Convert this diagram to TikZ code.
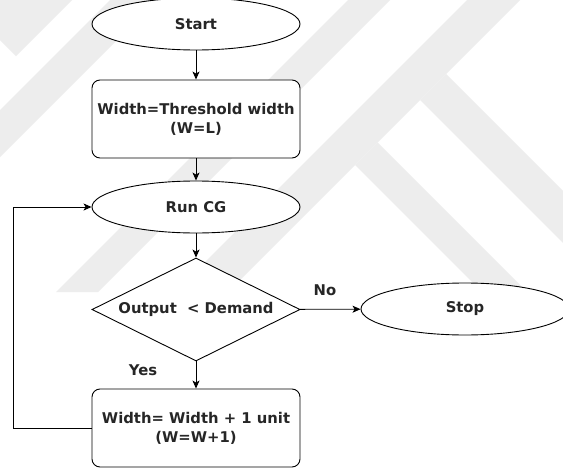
\documentclass[tikz,border=0pt]{standalone}
\usepackage{fontspec}
\setmainfont{DejaVu Sans}
\usetikzlibrary{shapes.geometric,arrows.meta}
\begin{document}
\begin{tikzpicture}[x=1pt,y=-1pt,
  every node/.style={font=\fontsize{14.8}{18}\selectfont\bfseries, text=black!85},
  term/.style={ellipse, draw, fill=white, line width=0.9pt, minimum width=208pt, minimum height=52pt, inner sep=0pt},
  proc/.style={rectangle, rounded corners=8pt, draw, fill=white, line width=0.9pt, minimum width=208pt, minimum height=78pt, inner sep=0pt, align=center},
  decide/.style={diamond, aspect=2.02, draw, fill=white, line width=0.9pt, minimum width=208pt, minimum height=103pt, inner sep=0pt},
  link/.style={line width=0.9pt, -{Stealth[length=8pt,width=7pt,inset=2pt]}},
  lbl/.style={inner sep=1pt},
  mark band/.style={fill=black!7}
]
\useasboundingbox (0,0) rectangle (563,471);
\fill[white] (0,0) rectangle (563,471);

% faint background logo stripes
\begin{scope}
  \clip (0,0) rectangle (563,292);
  \fill[mark band] (0,0) -- (72,0) -- (16,56) -- (0,40) -- cycle;
  \fill[mark band] (110,0) -- (157,0) -- (0,157) -- (0,110) -- cycle;
  \fill[mark band] (348,0) -- (390,0) -- (98,292) -- (56,292) -- cycle;
  \fill[mark band] (467,0) -- (520,0) -- (228,292) -- (175,292) -- cycle;
  \fill[mark band] (355,165) -- (377.5,142.5) -- (527,292) -- (482,292) -- cycle;
  \fill[mark band] (420,100) -- (446,74) -- (563,191) -- (563,243) -- cycle;
\end{scope}

\node[term] (start) at (196,24) {Start};
\node[proc] (init) at (196,119) {Width=Threshold width\\[1pt](W=L)};
\node[term] (run) at (196,207) {Run CG};
\node[decide] (test) at (196,309.5) {Output~ < Demand};
\node[term] (stop) at (465,309) {Stop};
\node[proc] (grow) at (196,428) {Width= Width + 1 unit\\[1pt](W=W+1)};

\node[lbl] (yes) at (143,370) {Yes};
\node[lbl] (no) at (325,290) {No};

\coordinate (loop) at (13,428);

\draw[link] (start) -- (init);
\draw[link] (init) -- (run);
\draw[link] (run) -- (test);
\draw[link] (test) -- (grow);
\draw[link] (test) -- (stop);
\draw[link] (grow.west) -- (loop) |- (run.west);
\end{tikzpicture}
\end{document}
